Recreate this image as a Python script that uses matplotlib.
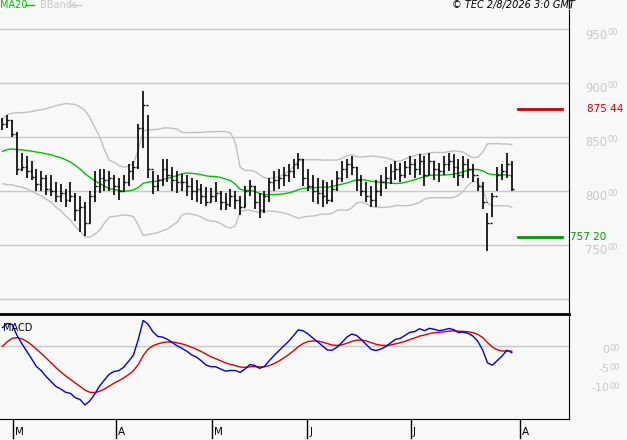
import numpy as np
import matplotlib
matplotlib.use("Agg")
import matplotlib.pyplot as plt

warmup_close = [850,848,845,850,842,838,835,840,832,828,830,825,822,826,820,818,825,822,830,838,845,850,858,862,866]
high = [868,870,866,855,835,832,828,820,818,815,815,808,806,802,808,798,795,790,800,818,820,820,818,815,812,815,825,828,862,893,870,818,815,830,830,822,818,816,815,812,810,806,804,803,808,800,798,802,800,795,805,810,805,798,800,812,818,820,822,825,830,835,830,820,815,812,810,808,810,818,828,830,832,822,815,808,805,810,815,822,825,828,826,828,832,830,834,832,835,828,826,832,835,834,830,832,830,825,812,808,780,798,822,825,835,828]
low = [856,858,850,815,818,812,810,800,800,796,795,790,790,785,790,772,762,758,770,790,798,800,800,796,792,800,805,810,820,840,812,797,800,805,808,800,798,800,795,792,790,788,786,790,790,782,782,785,783,778,785,795,783,775,780,790,800,802,805,808,812,820,805,800,790,788,785,788,790,800,808,812,815,800,795,790,785,785,795,802,806,810,808,812,815,812,815,805,815,810,808,815,818,812,805,812,812,808,800,783,744,776,800,810,812,800]
close = [862,866,853,820,822,818,813,806,812,802,800,795,798,792,795,782,785,770,795,805,812,810,812,805,800,808,818,822,858,880,820,805,810,820,815,810,808,808,805,800,802,795,790,795,798,790,788,795,792,785,800,805,790,782,795,808,810,812,815,818,825,830,812,805,800,798,795,792,802,812,820,825,822,810,800,795,792,800,808,812,818,820,815,822,825,820,828,815,828,820,818,825,828,822,815,825,820,815,805,790,770,795,815,818,825,802]
month_labels = ["M", "A", "M", "J", "J", "A"]
month_pos = [2.2, 23.4, 43.2, 62.8, 84.2, 106.7]
price_ticks = [750, 800, 850, 900, 950]
macd_ticks = [0, -5, -10]
support, resistance = 757.20, 875.44

allc = np.array(warmup_close + close, float)
W = len(warmup_close)
n = len(close)
s = lambda a: np.asarray(a, float)
ma20 = np.array([allc[max(0, i-19):i+1].mean() for i in range(len(allc))])
sd20 = np.array([allc[max(0, i-19):i+1].std() for i in range(len(allc))])
def ema(x, span):
    a = 2/(span+1); out = np.empty_like(x); out[0] = x[0]
    for i in range(1, len(x)): out[i] = a*x[i] + (1-a)*out[i-1]
    return out
macd = ema(allc, 12) - ema(allc, 26)
sig = ema(macd, 9)
idx = np.arange(n)
ma, up, lo = ma20[W:], (ma20+2*sd20)[W:], (ma20-2*sd20)[W:]
macd, sig = macd[W:], sig[W:]
opens = allc[W-1:-1]

W_, H_ = 627, 440
fx = lambda p: p / W_
fy = lambda p: 1 - p / H_
bg = "#f8f8f8"
fig = plt.figure(figsize=(6.27, 4.40), dpi=100, facecolor=bg)
px = 4.85
x0 = -2.5/px
xr = x0 + 569/px
P_TOP, P_BOT = 10, 314
M_TOP, M_BOT = 316, 419
ylo, yhi = 686, 967.6
mlo, mhi = -19.2, 7.9
ax = fig.add_axes([0, fy(P_BOT), fx(569), (P_BOT-P_TOP)/H_], facecolor=bg)
ax2 = fig.add_axes([0, fy(M_BOT), fx(569), (M_BOT-M_TOP)/H_], facecolor=bg)
py = lambda v: P_BOT - (v-ylo)/(yhi-ylo)*(P_BOT-P_TOP)
my = lambda v: M_BOT - (v-mlo)/(mhi-mlo)*(M_BOT-M_TOP)
xpix = lambda i: (i - x0)/(xr-x0)*569

ax.set_xlim(x0, xr); ax.set_ylim(ylo, yhi)
for v in [700] + price_ticks:
    ax.axhline(v, color="#c8c8c8", lw=1, zorder=0)
ax.plot(idx, up, color="#c0c0c0", lw=1)
ax.plot(idx, lo, color="#c0c0c0", lw=1)
ax.plot(idx, ma, color="#00c000", lw=1)
ax.vlines(idx, s(low), s(high), color="black", lw=1.2)
ax.hlines(opens, idx-0.4, idx, color="black", lw=1)
ax.hlines(s(close), idx, idx+0.4, color="black", lw=1)
ax.plot([x0+518/px, x0+562/px], [resistance]*2, color="#cc0000", lw=2)
ax.plot([x0+518/px, x0+562/px], [support]*2, color="#009900", lw=2)
for a in (ax, ax2):
    a.set_xticks([]); a.set_yticks([])
    for sp in a.spines.values(): sp.set_visible(False)
    a.spines["right"].set_visible(True); a.spines["right"].set_color("black")
ax.spines["bottom"].set_visible(True); ax.spines["bottom"].set_linewidth(2)
fig.add_artist(plt.Line2D([fx(569)]*2, [fy(P_TOP-2), 1], color="black", lw=1))

for v in price_ticks:
    y = py(v) + 6
    fig.text(fx(607), fy(y), str(v), color="#c8c8c8", fontsize=8.5, va="center", ha="right")
    fig.text(fx(608), fy(y-3), "00", color="#c8c8c8", fontsize=6, va="center", ha="left")
fig.text(fx(623), fy(py(resistance)), "875 44", color="#cc0000", fontsize=7.5, va="center", ha="right")
fig.text(fx(570), fy(py(support)), "757 20", color="#009900", fontsize=7.5, va="center")

fig.text(fx(0), fy(5), "MA20", color="#00c000", fontsize=7, va="center")
fig.add_artist(plt.Line2D([fx(25), fx(34)], [fy(5)]*2, color="#00c000", lw=1))
fig.text(fx(40), fy(5), "BBands", color="#c8c8c8", fontsize=7, va="center")
fig.add_artist(plt.Line2D([fx(69), fx(81)], [fy(5)]*2, color="#c8c8c8", lw=1))
fig.text(fx(575), fy(5), "© TEC 2/8/2026 3:0 GMT", color="black", fontsize=7, style="italic", ha="right", va="center")

ax2.set_xlim(x0, xr); ax2.set_ylim(mlo, mhi)
ax2.axhline(0, color="#c8c8c8", lw=1, zorder=0)
ax2.plot(idx, sig, color="#dd0000", lw=1)
ax2.plot(idx, macd, color="#0000dd", lw=1)
ax2.spines["bottom"].set_visible(True); ax2.spines["bottom"].set_color("black")
ax2.text(fx(3)/fx(569), 0.88, "MACD", transform=ax2.transAxes, fontsize=7, va="center")
for v in macd_ticks:
    y = my(v) + 4
    fig.text(fx(609), fy(y), str(v), color="#c8c8c8", fontsize=8, va="center", ha="right")
    fig.text(fx(610), fy(y-2), "00", color="#c8c8c8", fontsize=6, va="center", ha="left")
for p, m in zip(month_pos, month_labels):
    xp = xpix(p)
    fig.add_artist(plt.Line2D([fx(xp)]*2, [fy(M_BOT), fy(438)], color="black", lw=1))
    fig.text(fx(xp + 2), fy(432), m, fontsize=7.5, va="center")
fig.savefig("out.png", dpi=100, facecolor=bg)
